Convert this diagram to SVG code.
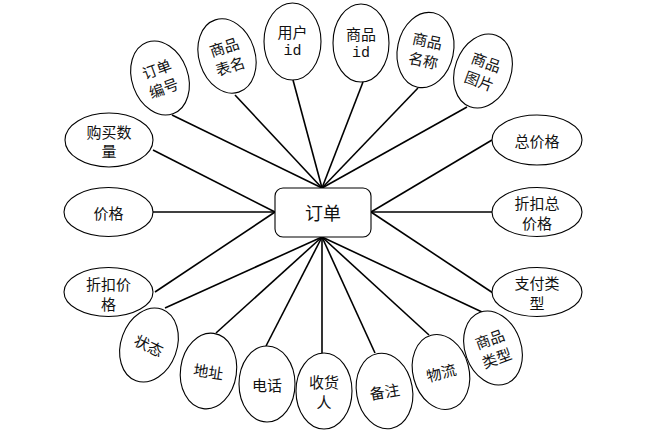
<svg xmlns="http://www.w3.org/2000/svg" width="660" height="440" viewBox="0 0 660 440">
<style>
.e{fill:#fff;stroke:#000;stroke-width:1.1}
.t{font-family:"Noto Sans CJK SC","Liberation Sans",sans-serif;font-size:15px;fill:#111;text-anchor:middle;dominant-baseline:central}
.m{font-family:"Liberation Mono","Noto Sans CJK SC",monospace;font-size:15px}
.c line{stroke:#000;stroke-width:1.6}
</style>
<rect width="660" height="440" fill="#fff"/>
<g class="c" id="connectors">
<line x1="172" y1="115" x2="322" y2="188"/>
<line x1="235" y1="95" x2="322" y2="188"/>
<line x1="293" y1="80" x2="322" y2="188"/>
<line x1="363" y1="82" x2="322" y2="188"/>
<line x1="418" y1="88" x2="322" y2="188"/>
<line x1="467" y1="107" x2="322" y2="188"/>
<line x1="492" y1="140" x2="371" y2="212"/>
<line x1="492" y1="212" x2="371" y2="212"/>
<line x1="493" y1="293" x2="371" y2="212"/>
<line x1="153" y1="150" x2="275" y2="212"/>
<line x1="153" y1="212" x2="275" y2="212"/>
<line x1="155" y1="292" x2="275" y2="212"/>
<line x1="165" y1="308" x2="322" y2="237"/>
<line x1="216" y1="333" x2="322" y2="237"/>
<line x1="266" y1="346" x2="322" y2="237"/>
<line x1="322" y1="353" x2="322" y2="237"/>
<line x1="375" y1="353" x2="322" y2="237"/>
<line x1="429" y1="335" x2="322" y2="237"/>
<line x1="482" y1="312" x2="322" y2="237"/>
</g>
<g id="order">
<rect x="275" y="188" width="96" height="49" rx="8" fill="#fff" stroke="#000" stroke-width="1.1"/>
<text class="t" x="323" y="212" style="font-size:18px">订单</text>
</g>
<g id="n-ddbh" transform="translate(160,78) rotate(-20)">
<ellipse class="e" rx="28" ry="38"/>
<text class="t" y="-10">订单</text><text class="t" y="10">编号</text>
</g>
<g id="n-spbm" transform="translate(227,56) rotate(-18)">
<ellipse class="e" rx="28" ry="38"/>
<text class="t" y="-10">商品</text><text class="t" y="10">表名</text>
</g>
<g id="n-yhid" transform="translate(292.5,41.5)">
<ellipse class="e" rx="28.5" ry="38.5"/>
<text class="t" y="-10">用户</text><text class="t m" y="10">id</text>
</g>
<g id="n-spid" transform="translate(361,43)">
<ellipse class="e" rx="28" ry="39"/>
<text class="t" y="-10">商品</text><text class="t m" y="10">id</text>
</g>
<g id="n-spmc" transform="translate(425.5,50) rotate(12)">
<ellipse class="e" rx="28" ry="38"/>
<text class="t" y="-10">商品</text><text class="t" y="10">名称</text>
</g>
<g id="n-sptp" transform="translate(483,71) rotate(20)">
<ellipse class="e" rx="28" ry="38"/>
<text class="t" y="-10">商品</text><text class="t" y="10">图片</text>
</g>
<g id="n-zjg" transform="translate(537,140)">
<ellipse class="e" rx="45" ry="25"/>
<text class="t">总价格</text>
</g>
<g id="n-zkzjg" transform="translate(537,212)">
<ellipse class="e" rx="45" ry="24.5"/>
<text class="t" y="-10">折扣总</text><text class="t" y="10">价格</text>
</g>
<g id="n-zflx" transform="translate(537,292)">
<ellipse class="e" rx="45" ry="24.5"/>
<text class="t" y="-10">支付类</text><text class="t" y="10">型</text>
</g>
<g id="n-gmsl" transform="translate(109,140)">
<ellipse class="e" rx="44" ry="27"/>
<text class="t" y="-9">购买数</text><text class="t" y="10">量</text>
</g>
<g id="n-jg" transform="translate(108.5,212)">
<ellipse class="e" rx="44.5" ry="24.5"/>
<text class="t">价格</text>
</g>
<g id="n-zkjg" transform="translate(108.5,292)">
<ellipse class="e" rx="44.5" ry="24.5"/>
<text class="t" y="-9">折扣价</text><text class="t" y="11">格</text>
</g>
<g id="n-zt" transform="translate(149,345) rotate(20)">
<ellipse class="e" rx="28" ry="38"/>
<text class="t" transform="rotate(5)">状态</text>
</g>
<g id="n-dz" transform="translate(208.5,371) rotate(8)">
<ellipse class="e" rx="28" ry="38"/>
<text class="t">地址</text>
</g>
<g id="n-dh" transform="translate(267,384)">
<ellipse class="e" rx="28" ry="38"/>
<text class="t">电话</text>
</g>
<g id="n-shr" transform="translate(324,391)">
<ellipse class="e" rx="28" ry="38"/>
<text class="t" y="-10">收货</text><text class="t" y="10">人</text>
</g>
<g id="n-bz" transform="translate(384.5,391) rotate(-10)">
<ellipse class="e" rx="28" ry="38"/>
<text class="t">备注</text>
</g>
<g id="n-wl" transform="translate(441,372) rotate(-15)">
<ellipse class="e" rx="28" ry="38"/>
<text class="t">物流</text>
</g>
<g id="n-splx" transform="translate(493,348) rotate(-20)">
<ellipse class="e" rx="28" ry="38"/>
<text class="t" y="-10">商品</text><text class="t" y="10">类型</text>
</g>
</svg>
